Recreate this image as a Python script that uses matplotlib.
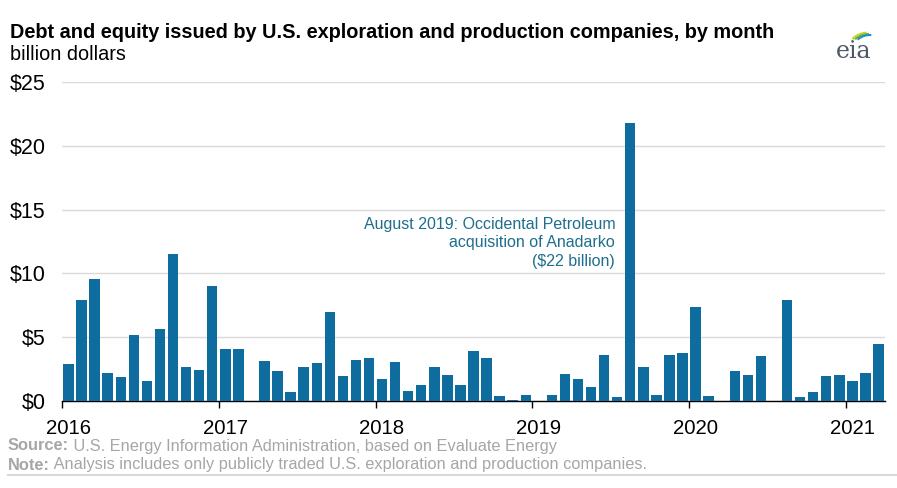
import numpy as np
import matplotlib.pyplot as plt
from matplotlib.patches import Arc

plt.rcParams['font.family'] = ['Liberation Sans', 'DejaVu Sans']

# monthly issuance, Jan 2016 .. Mar 2021, billion dollars
values_2016 = [2.9, 7.9, 9.6, 2.2, 1.9, 5.2, 1.6, 5.65, 11.5, 2.7, 2.45, 9.05]
values_2017 = [4.05, 4.05, 0.0, 3.15, 2.35, 0.7, 2.7, 2.95, 6.95, 1.95, 3.2, 3.4]
values_2018 = [1.75, 3.05, 0.8, 1.25, 2.7, 2.0, 1.25, 3.95, 3.35, 0.37, 0.05, 0.5]
values_2019 = [0.0, 0.45, 2.1, 1.7, 1.1, 3.6, 0.28, 21.75, 2.65, 0.5, 3.6, 3.8]
values_2020 = [7.35, 0.38, 0.0, 2.35, 2.05, 3.5, 0.0, 7.95, 0.3, 0.7, 1.95, 2.05]
values_2021 = [1.55, 2.2, 4.45]
values = values_2016 + values_2017 + values_2018 + values_2019 + values_2020 + values_2021

years = ['2016', '2017', '2018', '2019', '2020', '2021']
y_ticks = [0, 5, 10, 15, 20, 25]
y_labels = ['$0', '$5', '$10', '$15', '$20', '$25']

bar_color = '#0e6d9e'
note_color = '#1f6e8e'
gray = '#a6a6a6'

fig = plt.figure(figsize=(8.97, 4.88), dpi=100)
ax = fig.add_axes([62 / 897, 1 - 401 / 488, (885 - 62) / 897, (401 - 82) / 488])

x = np.arange(len(values)) + 0.5
ax.bar(x, values, width=0.8, color=bar_color, zorder=3)

ax.set_xlim(0, len(values))
ax.set_ylim(0, 25)

# year ticks on the boundaries, labels under the january bar
ax.set_xticks([12 * i for i in range(len(years))])
ax.set_xticklabels([])
ax.set_xticks([12 * i + 0.5 for i in range(len(years))], minor=True)
ax.set_xticklabels(years, minor=True, fontsize=14.7)
ax.tick_params(axis='x', which='major', length=5, width=1, color='black')
ax.tick_params(axis='x', which='minor', length=0, pad=13)

ax.set_yticks(y_ticks)
ax.set_yticklabels(y_labels, fontsize=15.5)
ax.tick_params(axis='y', length=0, pad=12)

ax.grid(axis='y', color='#d9d9d9', linewidth=1, zorder=0)
for side in ['top', 'right', 'left']:
    ax.spines[side].set_visible(False)
ax.spines['bottom'].set_color('black')
ax.spines['bottom'].set_linewidth(1)

ax.text(42.35, 14.45, 'August 2019: Occidental Petroleum\nacquisition of Anadarko\n($22 billion)',
        ha='right', va='top', fontsize=11.5, color=note_color, linespacing=1.3)

# titles
fig.text(10 / 897, 1 - 32 / 488, 'Debt and equity issued by U.S. exploration and production companies, by month',
         fontsize=14.3, fontweight='bold', va='center', ha='left')
fig.text(10 / 897, 1 - 55 / 488, 'billion dollars', fontsize=14.3, va='center', ha='left')

# footer: bold lead-in followed by plain text
renderer = fig.canvas.get_renderer()
footer = [('Source:', ' U.S. Energy Information Administration, based on Evaluate Energy', 446),
          ('Note:', ' Analysis includes only publicly traded U.S. exploration and production companies.', 465)]
for lead, rest, ypix in footer:
    t = fig.text(8 / 897, 1 - ypix / 488, lead, fontsize=11.8, fontweight='bold', color=gray, va='center')
    bb = t.get_window_extent(renderer)
    fig.text(bb.x1 / fig.bbox.width, 1 - ypix / 488, rest, fontsize=11.8, color=gray, va='center')
fig.add_artist(plt.Line2D([8 / 897, 1], [1 - 475 / 488, 1 - 475 / 488], color='#d9d9d9', linewidth=1.5))

# eia logo
fig.text(854 / 897, 1 - 52 / 488, 'eia', family='DejaVu Serif', fontsize=17, color='#4d5a66',
         ha='center', va='center')
logo = fig.add_axes([836 / 897, 1 - 46 / 488, 40 / 897, 22 / 488])
logo.set_xlim(0, 40)
logo.set_ylim(0, 22)
logo.axis('off')
logo.add_patch(Arc((32, -2), 38, 30, theta1=95, theta2=150, color='#c8d630', linewidth=2))
logo.add_patch(Arc((33, -3), 36, 30, theta1=90, theta2=145, color='#6cb443', linewidth=1.5))
logo.add_patch(Arc((34, -4), 34, 30, theta1=85, theta2=140, color='#1e8fc8', linewidth=1.5))

fig.savefig('out.png', dpi=100)
